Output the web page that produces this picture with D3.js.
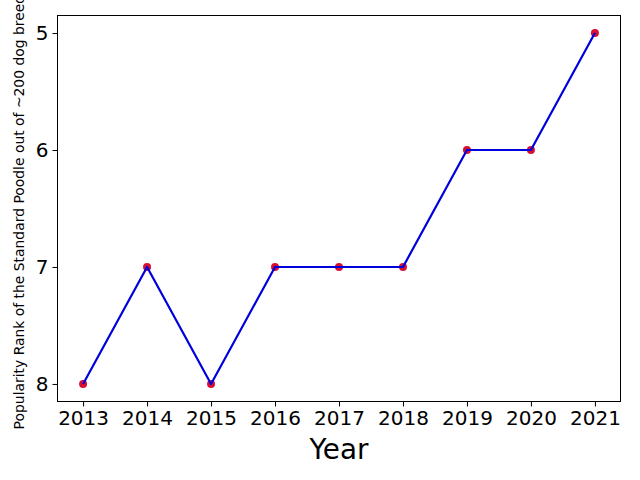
<!DOCTYPE html>
<html>
<head>
<meta charset="utf-8">
<script src="https://cdn.jsdelivr.net/npm/d3@7"></script>
<style>
  body { margin: 0; background: white; }
  text { font-family: "DejaVu Sans", sans-serif; }
</style>
</head>
<body>
<div id="container"></div>
<script>
let w = 640;
let h = 480;

// the data
let years = [2013, 2014, 2015, 2016, 2017, 2018, 2019, 2020, 2021];
let ranks = [8, 7, 8, 7, 7, 7, 6, 6, 5];
let yTicks = [5, 6, 7, 8];

// plot area edges ("top" is taken by window, so use other names)
let padLeft = 57.5, padRight = 620.5, padTop = 15.5, padBottom = 401.5;

let viz = d3.select("#container")
  .append("svg")
    .attr("width", w)
    .attr("height", h)
    .style("background-color", "white");

// matplotlib style 5% margins
let xScale = d3.scaleLinear().domain([2012.6, 2021.4]).range([padLeft, padRight]);
// ranks: lower number at the top
let yScale = d3.scaleLinear().domain([4.85, 8.15]).range([padTop, padBottom]);

let data = years.map(function(y, i){ return {year: y, rank: ranks[i]}; });

// x axis
let xAxis = d3.axisBottom(xScale).tickValues(years).tickFormat(d3.format("d")).tickSizeOuter(0).tickSize(5).tickPadding(4);
let xAxisGroup = viz.append("g").attr("transform", "translate(0," + padBottom + ")").call(xAxis);
xAxisGroup.select(".domain").remove();
xAxisGroup.selectAll("text").style("font-size", "20px").attr("fill", "black").attr("font-family", "DejaVu Sans, sans-serif");

// y axis
let yAxis = d3.axisLeft(yScale).tickValues(yTicks).tickFormat(d3.format("d")).tickSizeOuter(0).tickSize(5).tickPadding(4);
let yAxisGroup = viz.append("g").attr("transform", "translate(" + padLeft + ",0)").call(yAxis);
yAxisGroup.select(".domain").remove();
yAxisGroup.selectAll("text").style("font-size", "20px").attr("fill", "black").attr("font-family", "DejaVu Sans, sans-serif");

// frame
viz.append("rect")
  .attr("x", padLeft).attr("y", padTop)
  .attr("width", padRight - padLeft).attr("height", padBottom - padTop)
  .attr("fill", "none").attr("stroke", "black").attr("stroke-width", 1);

// markers first, line on top
viz.selectAll(".dot").data(data).enter()
  .append("circle")
  .attr("class", "dot")
  .attr("cx", function(d){ return xScale(d.year); })
  .attr("cy", function(d){ return yScale(d.rank); })
  .attr("r", 4)
  .attr("fill", "#d81030");

let line = d3.line()
  .x(function(d){ return xScale(d.year); })
  .y(function(d){ return yScale(d.rank); });

viz.append("path")
  .datum(data)
  .attr("d", line)
  .attr("fill", "none")
  .attr("stroke", "#0000dd")
  .attr("stroke-width", 2.2)
  .attr("stroke-linejoin", "round");

// labels
viz.append("text")
  .attr("x", (padLeft + padRight) / 2)
  .attr("y", 459)
  .attr("text-anchor", "middle")
  .style("font-size", "27.8px")
  .text("Year");

viz.append("text")
  .attr("transform", "translate(24," + ((padTop + padBottom) / 2) + ") rotate(-90)")
  .attr("text-anchor", "middle")
  .style("font-size", "13.9px")
  .text("Popularity Rank of the Standard Poodle out of ~200 dog breeds");
</script>
</body>
</html>
